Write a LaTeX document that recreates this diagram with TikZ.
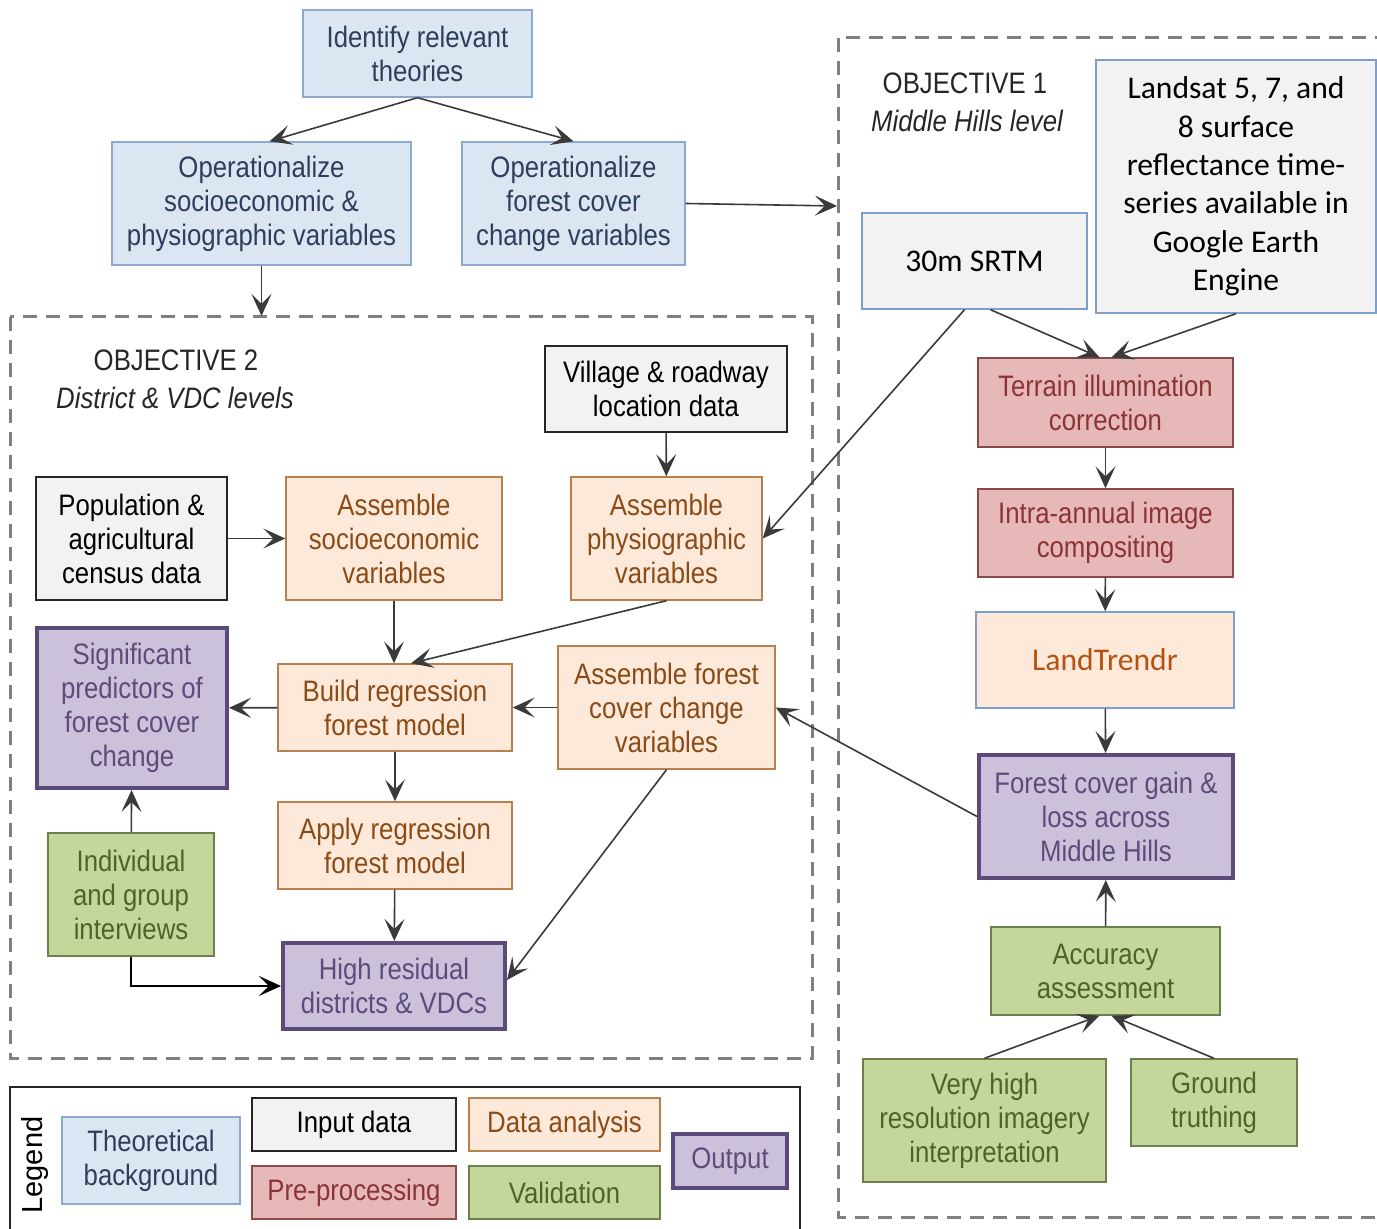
\documentclass[tikz,border=0pt]{standalone}
\usepackage{fontspec}
\newfontfamily\narrowsf[FakeStretch=0.87]{Liberation Sans}
\newfontfamily\plainsf{Liberation Sans}
\newfontfamily\calib{Carlito}
\usetikzlibrary{arrows.meta}

\definecolor{theofill}{HTML}{DCE6F2}
\definecolor{theodraw}{HTML}{8EA9CF}
\definecolor{theotext}{HTML}{2E3F5C}
\definecolor{inputfill}{HTML}{F2F2F2}
\definecolor{inputdraw}{HTML}{262626}
\definecolor{rawdraw}{HTML}{7F9FCB}
\definecolor{prefill}{HTML}{E6B9B8}
\definecolor{predraw}{HTML}{8B4A4A}
\definecolor{pretext}{HTML}{8C3335}
\definecolor{anafill}{HTML}{FDE9D9}
\definecolor{anadraw}{HTML}{B9804E}
\definecolor{anatext}{HTML}{8A4B17}
\definecolor{valfill}{HTML}{C4D79B}
\definecolor{valdraw}{HTML}{6E7F4B}
\definecolor{valtext}{HTML}{4F6228}
\definecolor{outfill}{HTML}{CCC1DA}
\definecolor{outdraw}{HTML}{5C4A7A}
\definecolor{outtext}{HTML}{5F4B7B}
\definecolor{trendtext}{HTML}{B5520F}
\definecolor{arrowgray}{HTML}{3A3A3A}
\definecolor{dashgray}{HTML}{808080}

\tikzset{
  >={Stealth[length=11pt,width=10pt,inset=5pt]},
  every node/.style={font=\narrowsf\fontsize{14.8}{17}\selectfont, align=center, inner sep=0pt},
  dims/.style 2 args={minimum width=#1*0.5pt, minimum height=#2*0.5pt},
  box/.style={draw, rectangle, line width=0.7pt},
  theory/.style={box, fill=theofill, draw=theodraw, text=theotext},
  input/.style={box, fill=inputfill, draw=inputdraw, line width=1.1pt, text=black},
  rawdata/.style={box, fill=inputfill, draw=rawdraw, text=black,
    font=\calib\fontsize{15.8}{19.2}\selectfont},
  prep/.style={box, fill=prefill, draw=predraw, text=pretext},
  analysis/.style={box, fill=anafill, draw=anadraw, text=anatext},
  valid/.style={box, fill=valfill, draw=valdraw, text=valtext},
  output/.style={box, fill=outfill, draw=outdraw, line width=2pt, text=outtext},
  flow/.style={->, draw=arrowgray, line width=0.8pt},
  objective/.style={draw=dashgray, line width=1.5pt, dash pattern=on 7pt off 4.5pt},
}

\begin{document}
\begin{tikzpicture}[x=0.5pt, y=-0.5pt]
  \useasboundingbox (0,0) rectangle (1377,1229);

  % objective frames
  \draw[objective] (10,317) rectangle (812,1058);
  \draw[objective] (838,38) rectangle (1395,1217);
  \node[text=black!85] (obj1) at (965,83) {OBJECTIVE 1};
  \node[text=black!85, font=\narrowsf\itshape\fontsize{14.8}{17}\selectfont] (obj1lvl) at (967,121) {Middle Hills level};
  \node[text=black!85] (obj2) at (176,360) {OBJECTIVE 2};
  \node[text=black!85, font=\narrowsf\itshape\fontsize{14.8}{17}\selectfont] (obj2lvl) at (175,398) {District \& VDC levels};

  % theory
  \node[theory, dims={229}{87}]  (theories) at (417.5,53.5) {Identify relevant\\theories};
  \node[theory, dims={299}{123}] (opsoc)    at (261.5,203.5) {Operationalize\\socioeconomic \&\\physiographic variables};
  \node[theory, dims={223}{123}] (opfor)    at (573.5,203.5) {Operationalize\\forest cover\\change variables};
  \coordinate (o2top)  at (261.5,316);
  \coordinate (o1left) at (837,206);

  % objective 1
  \node[rawdata, dims={280}{253}] (landsat) at (1236,186.5) {Landsat 5, 7, and\\8 surface\\reflectance time-\\series available in\\Google Earth\\Engine};
  \node[rawdata, dims={225}{96}]  (srtm)    at (974.5,261) {30m SRTM};
  \node[prep, dims={255}{89}]     (terrain) at (1105.5,402.5) {Terrain illumination\\correction};
  \node[prep, dims={255}{88}]     (intra)   at (1105.5,533) {Intra-annual image\\compositing};
  \node[box, fill=anafill, draw=rawdraw, text=trendtext, dims={258}{96},
        font=\calib\fontsize{15.8}{19.2}\selectfont] (trendr) at (1105,660) {LandTrendr};
  \node[output, dims={254}{123}]  (gain)    at (1106,816.5) {Forest cover gain \&\\loss across\\Middle Hills};
  \node[valid, dims={229}{88}]    (accur)   at (1105.5,971) {Accuracy\\assessment};
  \node[valid, dims={243}{123}]   (vhr)     at (984.5,1120.5) {Very high\\resolution imagery\\interpretation};
  \node[valid, dims={166}{87}]    (ground)  at (1214,1102.5) {Ground\\truthing};

  % objective 2
  \node[input, dims={242}{86}]     (village) at (666,389) {Village \& roadway\\location data};
  \node[input, dims={191}{123}]    (census)  at (131.5,538.5) {Population \&\\agricultural\\census data};
  \node[analysis, dims={216}{123}] (socio)   at (394,538.5) {Assemble\\socioeconomic\\variables};
  \node[analysis, dims={191}{123}] (physio)  at (666.5,538.5) {Assemble\\physiographic\\variables};
  \node[analysis, dims={234}{87}]  (build)   at (395,707.5) {Build regression\\forest model};
  \node[analysis, dims={217}{123}] (fcvars)  at (666.5,707.5) {Assemble forest\\cover change\\variables};
  \node[output, dims={190}{160}]   (signif)  at (132,708) {Significant\\predictors of\\forest cover\\change};
  \node[analysis, dims={234}{87}]  (apply)   at (395,845.5) {Apply regression\\forest model};
  \node[valid, dims={166}{123}]    (interv)  at (131,894.5) {Individual\\and group\\interviews};
  \node[output, dims={222}{86}]    (resid)   at (394,986) {High residual\\districts \& VDCs};

  % legend
  \draw[line width=1.1pt, draw=inputdraw] (10,1087) rectangle (800,1240);
  \node[rotate=90, font=\plainsf\fontsize{14.5}{17}\selectfont] (legtitle) at (35,1165) {Legend};
  \node[theory, dims={178}{87}]   (legtheo) at (151,1160.5) {Theoretical\\background};
  \node[input, dims={204}{53}]    (leginp)  at (354,1124.5) {Input data};
  \node[prep, dims={204}{53}]     (legpre)  at (354,1192.5) {Pre-processing};
  \node[analysis, dims={191}{53}] (legana)  at (564.5,1124.5) {Data analysis};
  \node[valid, dims={191}{53}]    (legval)  at (564.5,1192.5) {Validation};
  \node[output, dims={114}{54}]   (legout)  at (730,1161) {Output};

  % connectors
  \draw[flow] (theories.south) -- ([xshift=4pt]opsoc.north);
  \draw[flow] (theories.south) -- (opfor.north);
  \draw[flow] (opsoc.south) -- (o2top);
  \draw[flow] (opfor.east) -- (o1left);

  \draw[flow] ([xshift=8pt]srtm.south) -- ([xshift=-3pt]terrain.north);
  \draw[flow] (landsat.south) -- ([xshift=3pt]terrain.north);
  \draw[flow] ([xshift=-5pt]srtm.south) -- (physio.east);
  \draw[flow] (terrain) -- (intra);
  \draw[flow] (intra) -- (trendr);
  \draw[flow] (trendr) -- (gain);
  \draw[flow] (gain.west) -- (fcvars.east);
  \draw[flow] (accur) -- (gain);
  \draw[flow] (vhr.north) -- ([xshift=-3pt]accur.south);
  \draw[flow] (ground.north) -- ([xshift=3pt]accur.south);

  \draw[flow] (village) -- (physio);
  \draw[flow] (census) -- (socio);
  \draw[flow] (socio.south) -- (socio.south |- build.north);
  \draw[flow] (physio.south) -- ([xshift=8pt]build.north);
  \draw[flow] (fcvars) -- (build);
  \draw[flow] (build) -- (signif);
  \draw[flow] (build) -- (apply);
  \draw[flow] (apply) -- (resid);
  \draw[flow] (fcvars.south) -- ([yshift=3pt]resid.east);
  \draw[flow] (interv) -- (signif);
  \draw[flow, draw=black] (interv.south) |- (resid.west);
\end{tikzpicture}
\end{document}
